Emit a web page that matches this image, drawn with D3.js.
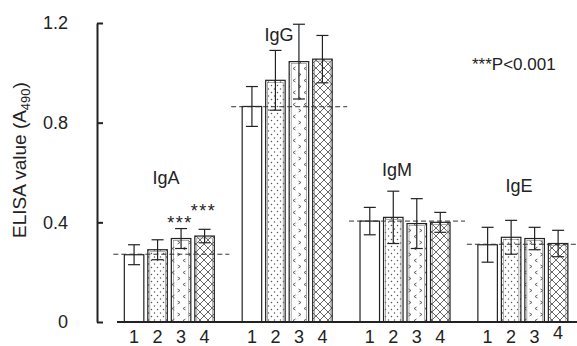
<!DOCTYPE html>
<html>
<head>
<meta charset="utf-8">
<script src="https://cdn.jsdelivr.net/npm/d3@7"></script>
<style>
  body { margin: 0; background: #fff; }
  text { font-family: Arial, "Liberation Sans", sans-serif; fill: #222; }
</style>
</head>
<body>
<script>
// Chart data
var groups = ["IgA", "IgG", "IgM", "IgE"];
var samples = ["1", "2", "3", "4"];

var meanIgA = [0.27, 0.29, 0.335, 0.345];
var errIgA = [0.04, 0.04, 0.04, 0.027];
var meanIgG = [0.865, 0.97, 1.045, 1.055];
var errIgG = [0.08, 0.12, 0.15, 0.095];
var meanIgM = [0.405, 0.42, 0.395, 0.40];
var errIgM = [0.055, 0.105, 0.10, 0.04];
var meanIgE = [0.31, 0.34, 0.335, 0.315];
var errIgE = [0.07, 0.068, 0.045, 0.053];

// dashed reference level for each isotype (sample 1)
var refLevels = [0.272, 0.864, 0.405, 0.312];

var yTicks = [0, 0.4, 0.8, 1.2];

// significance marks over IgA bars 3 and 4
var sigBars = ["3", "4"];
var sigLevels = [0.372, 0.42];

// Chart params
var svgWidth = 577;
var svgHeight = 346;

var svg = d3.select("body")
  .append("svg")
  .attr("width", svgWidth)
  .attr("height", svgHeight);

var means = [meanIgA, meanIgG, meanIgM, meanIgE];
var errs = [errIgA, errIgG, errIgM, errIgE];

var rows = [];
groups.forEach(function (g, gi) {
  samples.forEach(function (s, si) {
    rows.push({ group: g, sample: s, mean: means[gi][si], err: errs[gi][si] });
  });
});

// Scales
var yScale = d3.scaleLinear().domain([0, 1.2]).range([322, 23]);
var xGroup = d3.scaleBand().domain(groups).range([110.4, 581.8]);
var xInner = d3.scaleBand().domain(samples).range([-45, 45]).paddingInner(0.17);

function cx(g) { return xGroup(g) + xGroup.bandwidth() / 2; }

// Patterns
var defs = svg.append("defs");

var dots = defs.append("pattern").attr("id", "dots")
  .attr("patternUnits", "userSpaceOnUse").attr("width", 6).attr("height", 7);
dots.append("circle").attr("cx", 1.5).attr("cy", 1.5).attr("r", 0.75).attr("fill", "#555");
dots.append("circle").attr("cx", 4.5).attr("cy", 5).attr("r", 0.75).attr("fill", "#555");

var chev = defs.append("pattern").attr("id", "chev")
  .attr("patternUnits", "userSpaceOnUse").attr("width", 11).attr("height", 12);
chev.append("path").attr("d", "M1.5,1 L4,2.5 L1.5,4")
  .attr("fill", "none").attr("stroke", "#555").attr("stroke-width", 0.9);
chev.append("path").attr("d", "M9.5,7 L7,8.5 L9.5,10")
  .attr("fill", "none").attr("stroke", "#555").attr("stroke-width", 0.9);

var hatch = defs.append("pattern").attr("id", "hatch")
  .attr("patternUnits", "userSpaceOnUse").attr("width", 8).attr("height", 8);
hatch.append("path").attr("d", "M0,0 L8,8 M8,0 L0,8 M-4,4 L4,12 M4,-4 L12,4 M4,-4 L-4,4 M12,4 L4,12")
  .attr("stroke", "#444").attr("stroke-width", 0.8);

var fills = { "1": "#fff", "2": "url(#dots)", "3": "url(#chev)", "4": "url(#hatch)" };

// Bars
var barG = svg.append("g");
barG.selectAll("rect.bar")
  .data(rows)
  .enter()
  .append("rect")
  .attr("class", "bar")
  .attr("x", d => cx(d.group) + xInner(d.sample))
  .attr("y", d => yScale(d.mean))
  .attr("width", xInner.bandwidth())
  .attr("height", d => yScale(0) - yScale(d.mean))
  .attr("fill", d => fills[d.sample])
  .attr("stroke", "#222")
  .attr("stroke-width", 1.2);

// inner outline on the patterned bars
barG.selectAll("rect.inner")
  .data(rows.filter(d => d.sample !== "1"))
  .enter()
  .append("rect")
  .attr("class", "inner")
  .attr("x", d => cx(d.group) + xInner(d.sample) + 2)
  .attr("y", d => yScale(d.mean) + 2)
  .attr("width", xInner.bandwidth() - 4)
  .attr("height", d => yScale(0) - yScale(d.mean) - 2)
  .attr("fill", "none")
  .attr("stroke", "#777")
  .attr("stroke-width", 0.6);

// Dashed reference lines
svg.selectAll("line.ref")
  .data(groups)
  .enter()
  .append("line")
  .attr("class", "ref")
  .attr("x1", g => cx(g) - 56)
  .attr("x2", g => Math.min(cx(g) + 60, svgWidth))
  .attr("y1", (g, i) => yScale(refLevels[i]))
  .attr("y2", (g, i) => yScale(refLevels[i]))
  .attr("stroke", "#333")
  .attr("stroke-width", 1)
  .attr("stroke-dasharray", "5,3");

// Error bars
var errG = svg.append("g").attr("stroke", "#222").attr("stroke-width", 1.2);
rows.forEach(function (d) {
  var x = cx(d.group) + xInner(d.sample) + xInner.bandwidth() / 2;
  var top = yScale(d.mean + d.err);
  var bot = yScale(d.mean - d.err);
  errG.append("line").attr("x1", x).attr("x2", x).attr("y1", top).attr("y2", bot);
  errG.append("line").attr("x1", x - 6).attr("x2", x + 6).attr("y1", top).attr("y2", top);
  errG.append("line").attr("x1", x - 6).attr("x2", x + 6).attr("y1", bot).attr("y2", bot);
});

// Baseline
svg.append("line")
  .attr("x1", 117).attr("x2", svgWidth)
  .attr("y1", yScale(0)).attr("y2", yScale(0))
  .attr("stroke", "#222").attr("stroke-width", 2);

// Y axis
var leftAxis = d3.axisLeft(yScale)
  .tickValues(yTicks)
  .tickFormat(d => d === 0 ? "0" : d3.format(".1f")(d))
  .tickSizeInner(-6)
  .tickSizeOuter(0)
  .tickPadding(29);

var yAxisG = svg.append("g")
  .attr("transform", "translate(97,0)")
  .call(leftAxis);
yAxisG.select(".domain").attr("stroke", "#222").attr("stroke-width", 2);
yAxisG.selectAll(".tick line").attr("stroke", "#222").attr("stroke-width", 2);
yAxisG.selectAll(".tick text")
  .style("font-size", "18px")
  .style("font-family", "Arial, 'Liberation Sans', sans-serif")
  .attr("fill", "#222");

// Y axis title
var yTitle = svg.append("text")
  .attr("transform", "translate(26,160) rotate(-90)")
  .attr("text-anchor", "middle")
  .style("font-size", "19px");
yTitle.append("tspan").text("ELISA value (A");
yTitle.append("tspan").attr("dy", 4).style("font-size", "13px").text("490");
yTitle.append("tspan").attr("dy", -4).text(")");

// X tick labels
svg.selectAll("text.xlab")
  .data(rows)
  .enter()
  .append("text")
  .attr("class", "xlab")
  .attr("x", d => cx(d.group) + xInner(d.sample) + xInner.bandwidth() / 2)
  .attr("y", d => (d.group === "IgE" && d.sample === "4") ? 339 : 343)
  .attr("text-anchor", "middle")
  .style("font-size", "18px")
  .text(d => d.sample);

// Group labels
var groupLabelPos = { IgA: [166, 184], IgG: [279, 41], IgM: [397, 176], IgE: [519, 192] };
svg.selectAll("text.glab")
  .data(groups)
  .enter()
  .append("text")
  .attr("class", "glab")
  .attr("x", g => groupLabelPos[g][0])
  .attr("y", g => groupLabelPos[g][1])
  .attr("text-anchor", "middle")
  .style("font-size", "18px")
  .text(g => g);

// Significance marks
svg.selectAll("text.sig")
  .data(sigBars)
  .enter()
  .append("text")
  .attr("class", "sig")
  .attr("x", (s) => cx("IgA") + xInner(s) + xInner.bandwidth() / 2 - 1)
  .attr("y", (s, i) => yScale(sigLevels[i]))
  .attr("text-anchor", "middle")
  .style("font-size", "18px")
  .style("letter-spacing", "1.5px")
  .text("***");

svg.append("text")
  .attr("x", 472)
  .attr("y", 70)
  .style("font-size", "17px")
  .text("***P<0.001");
</script>
</body>
</html>
